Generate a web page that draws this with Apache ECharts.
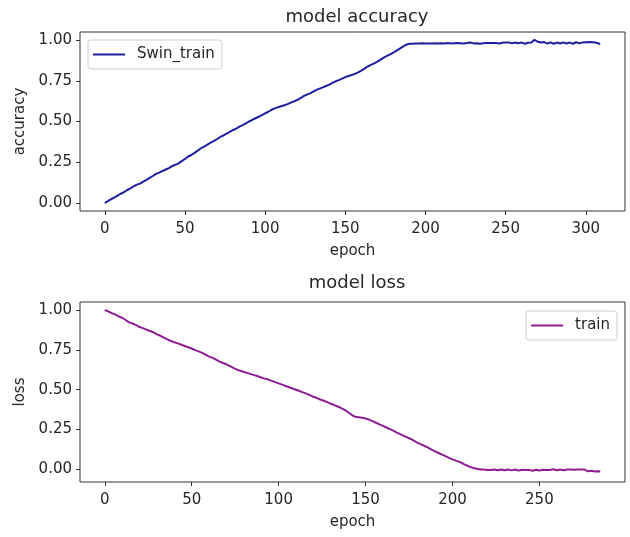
<!DOCTYPE html>
<html>
<head>
<meta charset="utf-8">
<script src="https://cdn.jsdelivr.net/npm/echarts@6/dist/echarts.min.js"></script>
<style>
html,body{margin:0;padding:0;background:#fff;}
#chart{width:630px;height:537px;}
</style>
</head>
<body>
<div id="chart"></div>
<script>
// ---- data ----
const accTitle = 'model accuracy';
const lossTitle = 'model loss';
const accLegend = 'Swin_train';
const lossLegend = 'train';
const xTicks = [0, 50, 100, 150, 200, 250, 300];
const xTicksLoss = [0, 50, 100, 150, 200, 250];
const yTicks = [0, 0.25, 0.5, 0.75, 1.0];

// accuracy per epoch, epochs 0..309
const accuracy = [
0.000,0.006,0.011,0.016,0.023,0.028,0.033,0.039,0.045,0.050,
0.056,0.062,0.066,0.072,0.079,0.084,0.089,0.096,0.101,0.106,
0.112,0.116,0.118,0.124,0.130,0.136,0.141,0.147,0.153,0.158,
0.165,0.171,0.178,0.183,0.186,0.190,0.196,0.201,0.205,0.209,
0.214,0.220,0.226,0.230,0.234,0.238,0.243,0.250,0.256,0.262,
0.270,0.278,0.285,0.290,0.294,0.300,0.307,0.314,0.321,0.330,
0.336,0.341,0.346,0.352,0.358,0.364,0.370,0.376,0.380,0.385,
0.391,0.398,0.405,0.410,0.414,0.419,0.425,0.431,0.437,0.442,
0.448,0.452,0.456,0.462,0.468,0.474,0.478,0.483,0.489,0.495,
0.500,0.505,0.510,0.515,0.520,0.525,0.529,0.534,0.539,0.545,
0.550,0.555,0.560,0.566,0.572,0.577,0.581,0.585,0.588,0.591,
0.594,0.597,0.600,0.603,0.607,0.611,0.616,0.620,0.624,0.628,
0.632,0.637,0.643,0.650,0.656,0.661,0.665,0.669,0.673,0.678,
0.684,0.690,0.694,0.698,0.702,0.706,0.710,0.714,0.718,0.722,
0.727,0.732,0.737,0.742,0.747,0.750,0.754,0.758,0.763,0.768,
0.773,0.777,0.780,0.783,0.786,0.789,0.793,0.797,0.802,0.807,
0.813,0.819,0.825,0.832,0.838,0.843,0.848,0.852,0.857,0.862,
0.868,0.874,0.880,0.886,0.892,0.898,0.903,0.908,0.913,0.918,
0.924,0.930,0.936,0.942,0.948,0.954,0.960,0.966,0.972,0.978,
0.978,0.979,0.978,0.979,0.980,0.979,0.980,0.979,0.981,0.980,
0.979,0.981,0.980,0.982,0.980,0.979,0.981,0.983,0.980,0.979,
0.981,0.984,0.980,0.979,0.982,0.983,0.980,0.978,0.981,0.984,
0.982,0.980,0.981,0.983,0.980,0.979,0.982,0.987,0.985,0.982,
0.980,0.979,0.981,0.980,0.978,0.979,0.981,0.980,0.982,0.984,
0.982,0.980,0.983,0.986,0.983,0.981,0.979,0.980,0.984,0.988,
0.985,0.982,0.986,0.983,0.980,0.982,0.985,0.984,0.981,0.983,
0.985,0.980,0.978,0.981,0.984,0.982,0.986,0.995,1.002,0.996,
0.990,0.994,0.986,0.982,0.988,0.984,0.979,0.983,0.986,0.981,
0.978,0.982,0.985,0.980,0.979,0.983,0.986,0.981,0.979,0.982,
0.985,0.980,0.978,0.983,0.987,0.983,0.980,0.982,0.986,0.989,
0.987,0.985,0.988,0.990,0.987,0.984,0.985,0.982,0.979,0.976
];

// loss per epoch, epochs 0..285
const loss = [
1.000,0.996,0.991,0.985,0.980,0.976,0.972,0.966,0.960,0.955,
0.951,0.946,0.937,0.929,0.922,0.918,0.915,0.911,0.905,0.898,
0.893,0.889,0.886,0.882,0.877,0.872,0.868,0.864,0.859,0.853,
0.847,0.842,0.838,0.833,0.827,0.821,0.815,0.810,0.805,0.800,
0.797,0.794,0.790,0.786,0.782,0.778,0.774,0.770,0.766,0.762,
0.758,0.753,0.748,0.744,0.740,0.736,0.731,0.725,0.719,0.713,
0.707,0.703,0.699,0.694,0.688,0.682,0.676,0.671,0.667,0.663,
0.659,0.654,0.648,0.642,0.636,0.631,0.626,0.622,0.618,0.614,
0.611,0.608,0.605,0.601,0.597,0.594,0.591,0.588,0.584,0.580,
0.576,0.572,0.569,0.566,0.563,0.559,0.555,0.551,0.547,0.543,
0.539,0.535,0.531,0.527,0.523,0.519,0.515,0.511,0.507,0.503,
0.499,0.495,0.491,0.487,0.483,0.479,0.475,0.470,0.465,0.460,
0.455,0.451,0.447,0.442,0.438,0.434,0.430,0.426,0.421,0.416,
0.411,0.407,0.403,0.399,0.394,0.389,0.384,0.379,0.373,0.366,
0.358,0.350,0.342,0.335,0.329,0.327,0.327,0.326,0.324,0.322,
0.319,0.316,0.312,0.307,0.302,0.297,0.292,0.287,0.282,0.277,
0.272,0.267,0.262,0.257,0.252,0.247,0.242,0.236,0.230,0.225,
0.220,0.215,0.210,0.205,0.200,0.195,0.190,0.184,0.178,0.172,
0.166,0.161,0.156,0.151,0.146,0.141,0.136,0.130,0.124,0.118,
0.112,0.107,0.102,0.097,0.092,0.087,0.082,0.077,0.072,0.067,
0.062,0.058,0.054,0.050,0.046,0.041,0.036,0.030,0.025,0.020,
0.015,0.011,0.008,0.005,0.003,0.001,-0.001,-0.002,-0.001,-0.003,
-0.004,-0.002,-0.005,-0.003,-0.001,-0.004,-0.006,-0.003,-0.001,-0.004,
-0.006,-0.004,-0.002,-0.005,-0.007,-0.004,-0.002,-0.005,-0.008,-0.005,
-0.003,-0.006,-0.004,-0.001,-0.004,-0.007,-0.009,-0.006,-0.003,-0.005,
-0.008,-0.006,-0.003,-0.001,-0.004,-0.007,-0.005,-0.002,0.000,-0.003,
-0.006,-0.004,-0.001,-0.003,-0.006,-0.004,-0.001,0.001,-0.002,-0.005,
-0.003,0.000,-0.002,-0.004,-0.001,0.001,-0.002,-0.008,-0.013,-0.011,
-0.009,-0.012,-0.014,-0.010,-0.012,-0.014
];

// ---- chart ----
const FONT = 'DejaVu Sans';
const TXT = '#262626';
const accColor = '#1e1ea0';
const lossColor = '#8e1c92';

function xAxisCfg(gridIndex, min, max, ticks) {
  return {
    type: 'value', gridIndex, min, max,
    name: 'epoch', nameLocation: 'middle', nameGap: 33,
    nameTextStyle: { fontFamily: FONT, fontSize: 15, color: TXT },
    axisLine: { show: false, onZero: false },
    axisTick: { show: true, inside: false, length: 4, customValues: ticks, lineStyle: { color: '#333' } },
    axisLabel: { customValues: ticks, fontFamily: FONT, fontSize: 15, color: TXT, margin: 11 },
    splitLine: { show: false }
  };
}
function yAxisCfg(gridIndex, min, max, name) {
  return {
    type: 'value', gridIndex, min, max,
    name, nameLocation: 'middle', nameGap: 47, nameRotate: 90,
    nameTextStyle: { fontFamily: FONT, fontSize: 15, color: TXT },
    axisLine: { show: false, onZero: false },
    axisTick: { show: true, inside: false, length: 4, customValues: yTicks, lineStyle: { color: '#333' } },
    axisLabel: { customValues: yTicks, fontFamily: FONT, fontSize: 15, color: TXT, margin: 8,
      formatter: v => v.toFixed(2) },
    splitLine: { show: false }
  };
}

const accMax = accuracy.length - 1;
const lossMax = loss.length - 1;

const option = {
  animation: false,
  backgroundColor: '#fff',
  title: [
    { text: accTitle, left: 352, top: 3, textAlign: 'center',
      textStyle: { fontFamily: FONT, fontSize: 18, fontWeight: 'normal', color: TXT } },
    { text: lossTitle, left: 352, top: 269, textAlign: 'center',
      textStyle: { fontFamily: FONT, fontSize: 18, fontWeight: 'normal', color: TXT } }
  ],
  legend: [
    { data: [{ name: accLegend, icon: 'rect' }], left: 88, top: 40, orient: 'vertical',
      itemWidth: 32, itemHeight: 2, padding: [7, 7, 7, 5],
      borderColor: '#d0d0d0', borderWidth: 1, borderRadius: 3, backgroundColor: 'rgba(255,255,255,0.85)',
      textStyle: { fontFamily: FONT, fontSize: 15, color: TXT, padding: [0, 0, 0, 7] } },
    { data: [{ name: lossLegend, icon: 'rect' }], right: 13, top: 311, orient: 'vertical',
      itemWidth: 32, itemHeight: 2, padding: [7, 7, 7, 5],
      borderColor: '#d0d0d0', borderWidth: 1, borderRadius: 3, backgroundColor: 'rgba(255,255,255,0.85)',
      textStyle: { fontFamily: FONT, fontSize: 15, color: TXT, padding: [0, 0, 0, 7] } }
  ],
  grid: [
    { left: 80, top: 32, width: 545, height: 179, show: true, borderColor: '#333', borderWidth: 1, backgroundColor: 'transparent' },
    { left: 80, top: 302, width: 545, height: 180, show: true, borderColor: '#333', borderWidth: 1, backgroundColor: 'transparent' }
  ],
  xAxis: [
    xAxisCfg(0, -0.05 * accMax, accMax * 1.05, xTicks),
    xAxisCfg(1, -0.05 * lossMax, lossMax * 1.05, xTicksLoss)
  ],
  yAxis: [
    yAxisCfg(0, -0.05, 1.05, 'accuracy'),
    yAxisCfg(1, -0.08, 1.05, 'loss')
  ],
  series: [
    { name: accLegend, type: 'line', xAxisIndex: 0, yAxisIndex: 0, showSymbol: false,
      lineStyle: { color: accColor, width: 2 }, itemStyle: { color: accColor },
      data: accuracy.map((v, i) => [i, v]) },
    { name: lossLegend, type: 'line', xAxisIndex: 1, yAxisIndex: 1, showSymbol: false,
      lineStyle: { color: lossColor, width: 2 }, itemStyle: { color: lossColor },
      data: loss.map((v, i) => [i, v]) }
  ]
};

const chart = echarts.init(document.getElementById('chart'), null, { renderer: 'canvas' });
chart.setOption(option);
</script>
</body>
</html>
